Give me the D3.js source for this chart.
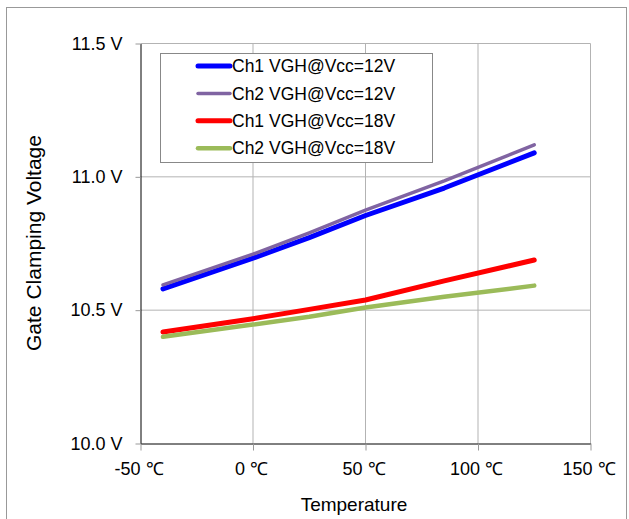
<!DOCTYPE html>
<html>
<head>
<meta charset="utf-8">
<script src="https://cdn.jsdelivr.net/npm/d3@7"></script>
<style>
  body { margin: 0; background: #fff; }
  text { font-family: "Liberation Sans", Arial, sans-serif; fill: #000; }
</style>
</head>
<body>
<div id="grafico"></div>
<script>
// Datos
var temps = [-40, 0, 25, 50, 85, 125];
var ch1_12 = [10.58, 10.695, 10.772, 10.855, 10.958, 11.09];
var ch2_12 = [10.595, 10.71, 10.79, 10.875, 10.985, 11.12];
var ch1_18 = [10.418, 10.468, 10.503, 10.538, 10.61, 10.688];
var ch2_18 = [10.40, 10.446, 10.475, 10.51, 10.55, 10.592];
var seriesNames = ["Ch1 VGH@Vcc=12V", "Ch2 VGH@Vcc=12V", "Ch1 VGH@Vcc=18V", "Ch2 VGH@Vcc=18V"];
var xTicks = [-50, 0, 50, 100, 150];
var yTicks = [10.0, 10.5, 11.0, 11.5];

var series = [
  {name: seriesNames[0], values: ch1_12, color: "#0000ff", width: 5},
  {name: seriesNames[1], values: ch2_12, color: "#8064a2", width: 3.5},
  {name: seriesNames[2], values: ch1_18, color: "#ff0000", width: 5},
  {name: seriesNames[3], values: ch2_18, color: "#9bbb59", width: 4.5}
];

var W = 629, H = 519;
var svg = d3.select("#grafico").append("svg")
  .attr("width", W).attr("height", H);

// Marco exterior
svg.append("rect")
  .attr("x", 6.5).attr("y", 7.5)
  .attr("width", 620).attr("height", 530)
  .attr("fill", "none").attr("stroke", "#999");

var x = d3.scaleLinear().domain([-50, 150]).range([140.5, 590.5]);
var y = d3.scaleLinear().domain([10, 11.5]).range([443.5, 43.5]);

// Rejilla
svg.append("g").selectAll("line.h")
  .data(yTicks.slice(1)).enter().append("line")
  .attr("x1", x(-50)).attr("x2", x(150))
  .attr("y1", function(d){ return y(d); }).attr("y2", function(d){ return y(d); })
  .attr("stroke", "#b3b3b3");
svg.append("g").selectAll("line.v")
  .data(xTicks.slice(1)).enter().append("line")
  .attr("x1", function(d){ return x(d); }).attr("x2", function(d){ return x(d); })
  .attr("y1", y(11.5)).attr("y2", y(10))
  .attr("stroke", "#b3b3b3");

// Eje Y
var gy = svg.append("g")
  .attr("transform", "translate(" + x(-50) + ",0)")
  .call(d3.axisLeft(y).tickValues(yTicks)
    .tickFormat(function(d){ return d3.format(".1f")(d) + " V"; })
    .tickSizeInner(5).tickSizeOuter(0).tickPadding(13));
gy.select(".domain").attr("stroke", "#000");
gy.selectAll(".tick line").attr("stroke", "#999");
gy.selectAll("text").style("font-size", "18px").attr("fill", "#000");

// Eje X
var gx = svg.append("g")
  .attr("transform", "translate(0," + y(10) + ")")
  .call(d3.axisBottom(x).tickValues(xTicks)
    .tickFormat(function(d){ return d + " \u2103"; })
    .tickSizeInner(7).tickSizeOuter(0).tickPadding(12));
gx.select(".domain").attr("stroke", "#000");
gx.selectAll(".tick line").attr("stroke", "#999");
gx.selectAll("text").style("font-size", "18px").attr("fill", "#000")
  .attr("dx", "-2");

// Lineas
var linea = d3.line()
  .x(function(d, i){ return x(temps[i]); })
  .y(function(d){ return y(d); });

svg.append("g").selectAll("path")
  .data(series).enter().append("path")
  .attr("fill", "none")
  .attr("stroke", function(d){ return d.color; })
  .attr("stroke-width", function(d){ return d.width; })
  .attr("stroke-linecap", "round")
  .attr("stroke-linejoin", "round")
  .attr("d", function(d){ return linea(d.values); });

// Leyenda
var leg = svg.append("g");
leg.append("rect")
  .attr("x", 160.5).attr("y", 53.5)
  .attr("width", 272).attr("height", 109)
  .attr("fill", "#fff").attr("stroke", "#888");
var items = leg.selectAll("g.item")
  .data(series).enter().append("g")
  .attr("transform", function(d, i){ return "translate(0," + (66 + i * 27.4) + ")"; });
items.append("line")
  .attr("x1", 198).attr("x2", 230)
  .attr("stroke", function(d){ return d.color; })
  .attr("stroke-width", function(d){ return d.width; })
  .attr("stroke-linecap", "round");
items.append("text")
  .attr("x", 232).attr("dy", "0.35em")
  .style("font-size", "17.5px")
  .text(function(d){ return d.name; });

// Titulos de ejes
svg.append("text")
  .attr("text-anchor", "middle")
  .attr("transform", "rotate(-90)")
  .attr("x", -243).attr("y", 41)
  .style("font-size", "21px")
  .text("Gate Clamping Voltage");

svg.append("text")
  .attr("text-anchor", "middle")
  .attr("x", 354).attr("y", 511)
  .style("font-size", "19px")
  .text("Temperature");
</script>
</body>
</html>
